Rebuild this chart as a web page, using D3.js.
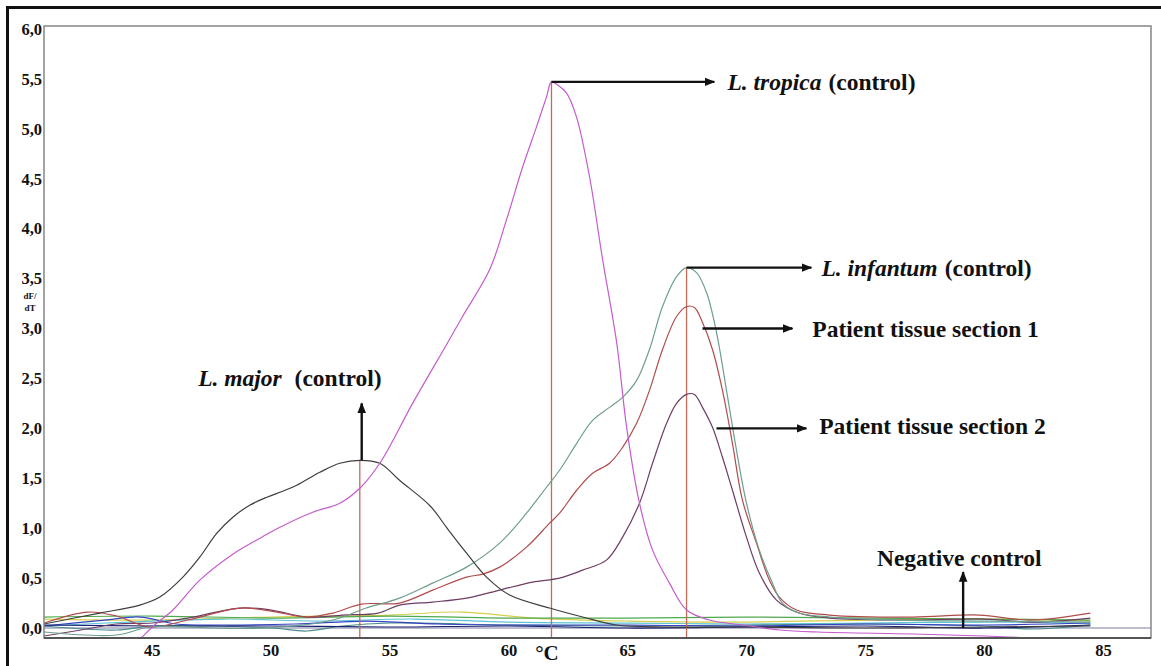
<!DOCTYPE html>
<meta charset="utf-8">
<style>
body { margin: 0; background: #fff; }
.tick-label { font-family: "Liberation Serif", "Times New Roman", serif; font-weight: bold; font-size: 16.5px; fill: #111; }
.note { font-family: "Liberation Serif", "Times New Roman", serif; font-weight: bold; font-size: 23.5px; fill: #111; }
.curve { fill: none; stroke-width: 1.2px; }
</style>
<body>
<svg width="1161" height="666"></svg>
<script src="https://d3js.org/d3.v7.min.js"></script>
<script>

// melt curve series (temperature in °C, dF/dT)
var tropicaT = [44.0, 44.53, 45.1, 45.87, 47.0, 48.39, 49.61, 50.37, 51.75, 52.89, 53.73, 54.57, 55.95, 57.38, 58.05, 59.19, 59.9, 60.58, 61.16, 61.58, 61.79, 62.05, 62.42, 62.84, 63.39, 63.94, 64.53, 64.95, 65.49, 66.04, 66.75, 67.47, 68.43, 69.82, 71.4, 73.0, 76.96, 80.0, 81.9, 84.45];
var tropicaV = [-0.22, -0.10, 0.03, 0.18, 0.48, 0.74, 0.91, 1.01, 1.16, 1.25, 1.40, 1.65, 2.25, 2.84, 3.12, 3.59, 4.09, 4.62, 5.02, 5.32, 5.47, 5.44, 5.36, 5.12, 4.52, 3.69, 2.86, 2.01, 1.25, 0.78, 0.45, 0.18, 0.08, 0.03, -0.02, -0.04, -0.06, -0.08, -0.10, -0.13];

var majorT = [40.45, 41.5, 42.8, 44.48, 45.32, 46.29, 47.0, 47.72, 48.39, 49.1, 49.82, 50.49, 51.08, 52.05, 52.89, 53.73, 54.57, 55.4, 56.7, 57.4, 58.22, 59.06, 60.03, 61.71, 63.1, 64.52, 66.63, 70, 75, 80, 84.45];
var majorV = [0.04, 0.09, 0.15, 0.23, 0.31, 0.51, 0.71, 0.95, 1.11, 1.23, 1.31, 1.37, 1.43, 1.56, 1.65, 1.68, 1.65, 1.48, 1.22, 1.0, 0.75, 0.51, 0.33, 0.20, 0.11, 0.03, 0.01, 0.01, 0.0, 0.01, 0.02];

var infantumT = [40.45, 43.5, 44.9, 47.5, 49.8, 52.6, 54.0, 55.4, 56.79, 58.22, 59.61, 60.74, 61.58, 62.13, 62.85, 63.52, 64.23, 64.78, 65.37, 65.91, 66.46, 67.05, 67.47, 67.89, 68.31, 68.73, 69.15, 69.57, 69.99, 70.53, 71.08, 71.5, 72.2, 73.5, 76.4, 80, 84.45];
var infantumV = [-0.04, -0.07, 0.01, 0.0, 0.0, 0.08, 0.2, 0.30, 0.45, 0.61, 0.85, 1.15, 1.41, 1.58, 1.85, 2.08, 2.21, 2.31, 2.48, 2.79, 3.22, 3.52, 3.61, 3.56, 3.36, 2.96, 2.38, 1.78, 1.25, 0.78, 0.45, 0.25, 0.15, 0.11, 0.08, 0.07, 0.06];

var patient1T = [40.45, 42.3, 43.5, 44.9, 46.5, 48.7, 50.0, 51.5, 52.6, 53.8, 55.4, 56.8, 58.22, 58.9, 59.61, 60.74, 61.71, 62.13, 62.85, 63.52, 64.23, 64.78, 65.37, 65.91, 66.46, 67.05, 67.47, 67.8, 68.14, 68.56, 68.98, 69.4, 69.82, 70.41, 70.95, 71.37, 72.09, 73.47, 76.96, 79.78, 81.88, 84.45];
var patient1V = [0.05, 0.16, 0.12, 0.01, 0.08, 0.20, 0.17, 0.11, 0.15, 0.24, 0.25, 0.38, 0.51, 0.54, 0.61, 0.81, 1.05, 1.15, 1.38, 1.55, 1.65, 1.81, 2.05, 2.38, 2.79, 3.12, 3.22, 3.21, 3.06, 2.79, 2.38, 1.85, 1.28, 0.85, 0.48, 0.31, 0.18, 0.13, 0.11, 0.13, 0.08, 0.15];

var patient2T = [40.45, 42.0, 43.5, 45.0, 46.5, 48.7, 50.0, 51.5, 53.0, 54.5, 55.4, 56.79, 58.22, 59.61, 60.99, 62.13, 63.1, 64.1, 64.78, 65.49, 66.04, 66.63, 67.05, 67.47, 67.8, 68.14, 68.56, 68.98, 69.4, 69.99, 70.53, 71.25, 72.2, 73.5, 77.0, 80.0, 82.0, 84.45];
var patient2V = [-0.08, -0.02, 0.04, 0.05, 0.10, 0.20, 0.18, 0.11, 0.13, 0.15, 0.23, 0.26, 0.30, 0.38, 0.46, 0.50, 0.58, 0.68, 0.91, 1.25, 1.65, 2.05, 2.25, 2.34, 2.34, 2.21, 2.01, 1.71, 1.38, 0.91, 0.55, 0.28, 0.15, 0.10, 0.08, 0.09, 0.06, 0.10];

var yellowT = [40.45, 45, 50, 55, 58, 61, 65, 70, 75, 80, 84.45];
var yellowV = [0.09, 0.08, 0.11, 0.13, 0.16, 0.10, 0.07, 0.06, 0.08, 0.09, 0.07];
var greenT = [40.45, 45, 50, 55, 60, 65, 70, 75, 80, 84.45];
var greenV = [0.11, 0.12, 0.10, 0.12, 0.10, 0.10, 0.11, 0.10, 0.09, 0.08];
var cyanT = [40.45, 44, 48, 52, 56, 60, 65, 70, 75, 80, 84.45];
var cyanV = [0.02, 0.06, 0.09, 0.07, 0.09, 0.06, 0.05, 0.04, 0.05, 0.06, 0.05];
var blueT = [40.45, 43, 44.5, 46, 48, 51, 54, 57, 60, 65, 70, 75, 80, 84.45];
var blueV = [0.02, 0.08, 0.11, 0.04, 0.03, 0.04, 0.07, 0.04, 0.03, 0.03, 0.02, 0.04, 0.03, 0.05];
var navyT = [40.45, 45, 50, 55, 60, 65, 70, 75, 80, 84.45];
var navyV = [0.03, 0.02, 0.02, 0.01, 0.02, 0.0, 0.01, 0.02, 0.0, 0.03];
var tealT = [40.45, 43.5, 45, 50, 51.5, 53, 55, 60, 65, 70, 75, 80, 82, 84.45];
var tealV = [0.02, -0.02, 0.02, 0.0, -0.03, 0.02, 0.05, 0.03, 0.02, 0.03, 0.04, 0.02, -0.01, 0.03];

var baseline = 0.0;

var xTicks = [45, 50, 55, 60, 65, 70, 75, 80, 85];
var yTicks = [0, 0.5, 1, 1.5, 2, 2.5, 3, 3.5, 4, 4.5, 5, 5.5, 6];

// peak markers (vertical lines): temperature, peak height
var peakT = [53.73, 61.79, 67.47];
var peakV = [1.68, 5.47, 3.61];

var svg = d3.select("svg"),
    plotL = 44, plotR = 1151, plotT = 26, plotB = 638;

var x = d3.scaleLinear().domain([40.45, 87.0]).range([plotL, plotR]);
var y = d3.scaleLinear().domain([-0.1, 6.0]).range([plotB, 29]);

// outer frame (only left and top visible)
svg.append("path")
    .attr("d", "M7.5,666 V7.5 H1161")
    .attr("fill", "none")
    .attr("stroke", "#111")
    .attr("stroke-width", 3);

var defs = svg.append("defs");
defs.append("clipPath").attr("id", "plot")
  .append("rect").attr("x", plotL).attr("y", plotT).attr("width", plotR - plotL).attr("height", plotB - plotT);

defs.append("marker")
    .attr("id", "head")
    .attr("viewBox", "0 0 10 10")
    .attr("refX", 9).attr("refY", 5)
    .attr("markerWidth", 4.5).attr("markerHeight", 4.5)
    .attr("markerUnits", "strokeWidth")
    .attr("orient", "auto")
  .append("path").attr("d", "M0,1 L10,5 L0,9 z").attr("fill", "#111");

var g = svg.append("g").attr("clip-path", "url(#plot)");

// baseline line
g.append("line")
    .attr("x1", plotL).attr("x2", plotR)
    .attr("y1", y(baseline)).attr("y2", y(baseline))
    .attr("stroke", "#7c7ca4").attr("stroke-width", 1.2);

var line = d3.line()
    .x(function(d) { return x(d[0]); })
    .y(function(d) { return y(d[1]); })
    .curve(d3.curveCatmullRom.alpha(0.5));

function addCurve(ts, vs, color, w) {
  g.append("path")
    .datum(d3.zip(ts, vs))
    .attr("class", "curve")
    .attr("stroke", color)
    .attr("stroke-width", w || 1.2)
    .attr("d", line);
}

addCurve(yellowT, yellowV, "#d6cf4a");
addCurve(greenT, greenV, "#4ea84e");
addCurve(cyanT, cyanV, "#5cc4d6");
addCurve(tealT, tealV, "#4a8c8a");
addCurve(blueT, blueV, "#3444c4", 1.4);
addCurve(navyT, navyV, "#1a2070", 1.8);

// vertical peak lines
g.selectAll(".peak")
  .data(d3.zip(peakT, peakV))
  .enter().append("line")
    .attr("x1", function(d) { return x(d[0]); })
    .attr("x2", function(d) { return x(d[0]); })
    .attr("y1", function(d) { return y(d[1]); })
    .attr("y2", plotB)
    .attr("stroke", "#c46a58")
    .attr("stroke-width", 1.3);

addCurve(patient2T, patient2V, "#6e3d64");
addCurve(patient1T, patient1V, "#b04c4c");
addCurve(infantumT, infantumV, "#6f9e8e");
addCurve(majorT, majorV, "#3e3e3e");
addCurve(tropicaT, tropicaV, "#c45ccc");

// plot frame
svg.append("rect")
    .attr("x", plotL).attr("y", plotT)
    .attr("width", plotR - plotL).attr("height", plotB - plotT)
    .attr("fill", "none").attr("stroke", "#858585").attr("stroke-width", 1.5);
svg.append("line")
    .attr("x1", plotL).attr("x2", plotR).attr("y1", plotB).attr("y2", plotB)
    .attr("stroke", "#555").attr("stroke-width", 2);

// tick labels
svg.selectAll(".ylab")
  .data(yTicks)
  .enter().append("text")
    .attr("class", "tick-label")
    .attr("x", plotL - 2)
    .attr("y", function(d) { return y(d); })
    .attr("dy", "0.35em")
    .attr("text-anchor", "end")
    .text(function(d) { return d3.format(".1f")(d).replace(".", ","); });

svg.selectAll(".xlab")
  .data(xTicks)
  .enter().append("text")
    .attr("class", "tick-label")
    .attr("x", function(d) { return x(d); })
    .attr("y", 656)
    .attr("text-anchor", "middle")
    .text(function(d) { return d; });

svg.append("text")
    .attr("class", "note")
    .style("font-size", "21px")
    .attr("x", x(61.6)).attr("y", 660)
    .attr("text-anchor", "middle")
    .text("°C");

var dfdt = svg.append("text")
    .attr("class", "tick-label")
    .style("font-size", "9px")
    .attr("text-anchor", "middle");
dfdt.append("tspan").attr("x", 30).attr("y", 299).text("dF/");
dfdt.append("tspan").attr("x", 30).attr("y", 311).text("dT");

// annotations: arrow start (t, v) -> end (t2, v2)
var arrows = [
  {t: 61.79, v: 5.47, t2: 68.64, v2: 5.47},
  {t: 67.47, v: 3.61, t2: 72.72, v2: 3.61},
  {t: 68.14, v: 3.0, t2: 71.92, v2: 3.0},
  {t: 68.73, v: 2.0, t2: 72.51, v2: 2.0},
  {t: 53.81, v: 1.68, t2: 53.81, v2: 2.25},
  {t: 79.1, v: 0.0, t2: 79.1, v2: 0.56}
];

svg.selectAll(".arrow")
  .data(arrows)
  .enter().append("line")
    .attr("x1", function(d) { return x(d.t); })
    .attr("y1", function(d) { return y(d.v); })
    .attr("x2", function(d) { return x(d.t2); })
    .attr("y2", function(d) { return y(d.v2); })
    .attr("stroke", "#111")
    .attr("stroke-width", 2.4)
    .attr("marker-end", "url(#head)");

function label(t, v, anchor, italic, rest) {
  var txt = svg.append("text")
      .attr("class", "note")
      .attr("x", x(t)).attr("y", y(v))
      .attr("dy", "0.35em")
      .attr("text-anchor", anchor);
  if (italic) txt.append("tspan").style("font-style", "italic").text(italic);
  txt.append("tspan").attr("dx", italic ? 7 : 0).text(rest);
}

label(69.19, 5.47, "start", "L. tropica", "(control)");
label(73.14, 3.61, "start", "L. infantum", "(control)");
label(72.76, 3.0, "start", null, "Patient tissue section 1");
label(73.05, 2.03, "start", null, "Patient tissue section 2");
label(50.79, 2.51, "middle", "L. major", " (control)");
label(78.94, 0.70, "middle", null, "Negative control");

</script>
</body>
